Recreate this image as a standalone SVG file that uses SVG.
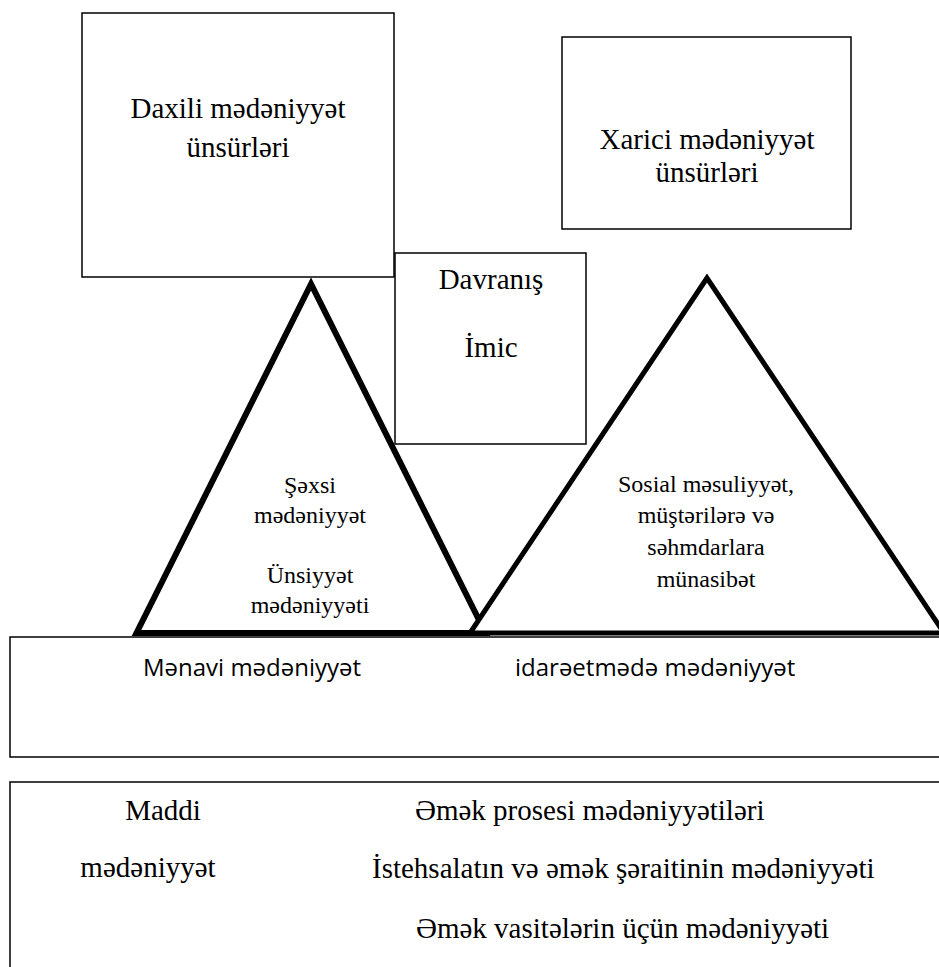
<svg xmlns="http://www.w3.org/2000/svg" width="939" height="967" viewBox="0 0 939 967">
<style>
.box{fill:#fff;stroke:#000;stroke-width:1.5}
.t{font-family:"Liberation Serif","DejaVu Serif","Times New Roman",serif;font-size:29px;fill:#000}
.ts{font-family:"Liberation Serif","DejaVu Serif","Times New Roman",serif;font-size:24px;fill:#000}
.tc{font-family:"Open Sans","Noto Sans",sans-serif;font-size:24px;fill:#000}
.m{text-anchor:middle}
</style>
<rect width="939" height="967" fill="#fff"/>
<g id="daxili">
<rect class="box" x="82" y="13" width="312" height="264"/>
<text class="t m" x="238" y="118">Daxili mədəniyyət</text>
<text class="t m" x="238" y="157">ünsürləri</text>
</g>
<g id="xarici">
<rect class="box" x="562" y="37" width="289" height="192"/>
<text class="t m" x="707" y="149">Xarici mədəniyyət</text>
<text class="t m" x="707" y="182">ünsürləri</text>
</g>
<g id="davranis">
<rect class="box" x="395" y="253" width="191" height="191"/>
<text class="t m" x="491" y="289">Davranış</text>
<text class="t m" x="491" y="357">İmic</text>
</g>
<g id="manevi">
<rect class="box" x="10" y="637" width="940" height="120"/>
<text class="tc" x="143" y="676">Mənavi mədəniyyət</text>
<text class="tc" x="515" y="676">idarəetmədə mədəniyyət</text>
</g>
<g id="sexsi">
<polygon points="311,284 136.5,633 485.5,633" fill="#fff" stroke="#000" stroke-width="6"/>
<text class="ts m" x="310" y="493">Şəxsi</text>
<text class="ts m" x="310" y="523">mədəniyyət</text>
<text class="ts m" x="310" y="583">Ünsiyyət</text>
<text class="ts m" x="310" y="613">mədəniyyəti</text>
</g>
<g id="sosial">
<polygon points="707,278 470,633 944,633" fill="#fff" stroke="#000" stroke-width="5"/>
<text class="ts m" x="706" y="492">Sosial məsuliyyət,</text>
<text class="ts m" x="706" y="523">müştərilərə və</text>
<text class="ts m" x="706" y="555">səhmdarlara</text>
<text class="ts m" x="706" y="587">münasibət</text>
</g>
<g id="maddi">
<rect class="box" x="10" y="782" width="940" height="200"/>
<text class="t m" x="163" y="820">Maddi</text>
<text class="t m" x="148" y="877">mədəniyyət</text>
<text class="t" x="415" y="820">Əmək prosesi mədəniyyətiləri</text>
<text class="t" x="372" y="878">İstehsalatın və əmək şəraitinin mədəniyyəti</text>
<text class="t" x="416" y="938">Əmək vasitələrin üçün mədəniyyəti</text>
</g>
<g id="connectors"></g>
</svg>
